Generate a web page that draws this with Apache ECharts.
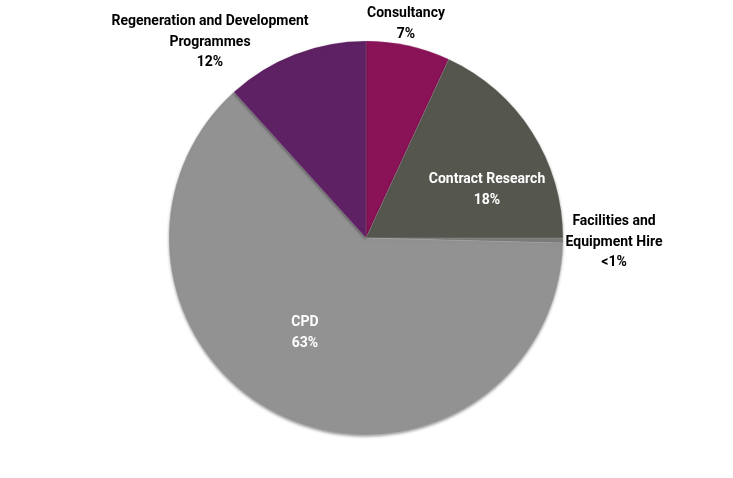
<!DOCTYPE html>
<html>
<head>
<meta charset="utf-8">
<script src="https://cdn.jsdelivr.net/npm/echarts@6/dist/echarts.min.js"></script>
<style>
    html, body { margin: 0; padding: 0; background: #fff; }
    #chart { width: 733px; height: 478px; }
</style>
</head>
<body>
<div id="chart"></div>
<script>
// data (share of income, %)
const categories = ['Consultancy', 'Contract Research', 'Facilities and\nEquipment Hire', 'CPD', 'Regeneration and Development\nProgrammes']
const values = [6.9, 18.1, 0.4, 62.9, 11.7]
const valueLabels = ['7%', '18%', '<1%', '63%', '12%']
const colors = ['#8a1357', '#55574f', '#7c7c7a', '#929292', '#5e2163']

// where each label sits on the page and its text colour
const labelPos = [[406, 24], [487, 190], [614, 242], [305, 333], [210, 42]]
const labelColors = ['#000', '#fff', '#000', '#fff', '#000']

const chart = echarts.init(document.getElementById('chart'))

const option = {
    animation: false,
    series: [
        {
            type: 'pie',
            center: [366, 238],
            radius: 197,
            startAngle: 90,
            clockwise: true,
            avoidLabelOverlap: false,
            itemStyle: {
                borderColor: 'rgba(255,255,255,0.12)',
                borderWidth: 1,
                shadowColor: 'rgba(0,0,0,0.4)',
                shadowBlur: 3,
                shadowOffsetY: 1.5
            },
            label: {
                show: true,
                position: 'inside',
                fontFamily: 'Roboto',
                fontWeight: 'bold',
                fontSize: 14,
                lineHeight: 20.5,
                align: 'center',
                formatter: (p) => p.name + '\n' + valueLabels[p.dataIndex]
            },
            labelLine: { show: false },
            labelLayout: (params) => ({
                x: labelPos[params.dataIndex][0],
                y: labelPos[params.dataIndex][1],
                align: 'center',
                verticalAlign: 'middle'
            }),
            data: categories.map((name, i) => ({
                name: name,
                value: values[i],
                itemStyle: { color: colors[i] },
                label: { color: labelColors[i] }
            }))
        }
    ]
}

chart.setOption(option)
</script>
</body>
</html>
